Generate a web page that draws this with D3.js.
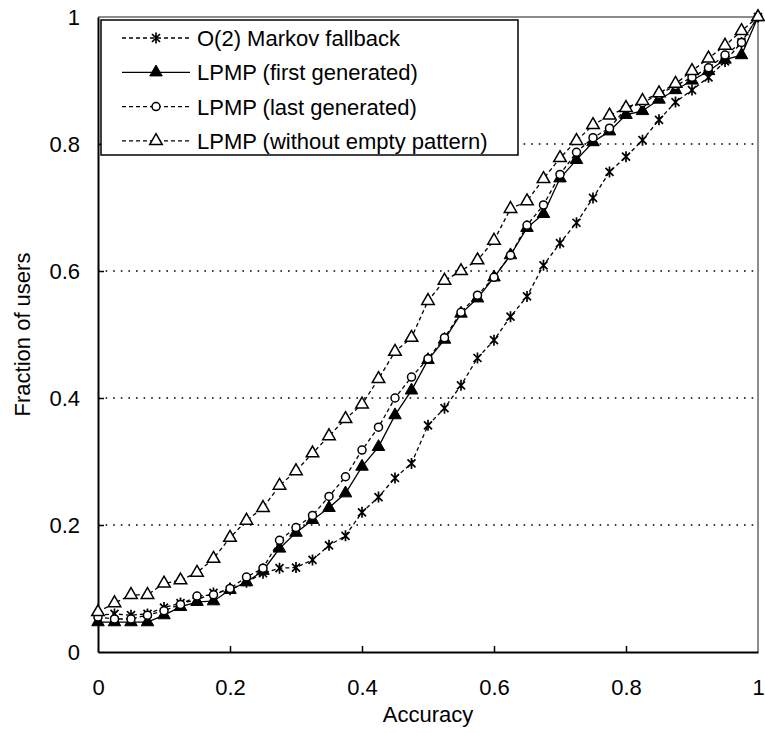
<!DOCTYPE html>
<meta charset="utf-8">
<head>
<title>Accuracy vs fraction of users</title>
</head>
<style>
body { margin: 0; background: #fff; }
text { font-family: Arial, "Liberation Sans", sans-serif; fill: #000; }
</style>
<body>
<svg id="chart" width="765" height="733"></svg>

<script src="https://cdnjs.cloudflare.com/ajax/libs/d3/7.8.5/d3.min.js"></script>
<script>
// accuracy steps 0, 0.025 ... 1
var accuracy = d3.range(41).map(function(i) { return i / 40 })

var seriesNames = ["O(2) Markov fallback", "LPMP (first generated)",
                   "LPMP (last generated)", "LPMP (without empty pattern)"]

var markov = [0.058, 0.060, 0.058, 0.060, 0.070, 0.077, 0.082, 0.093, 0.098, 0.110,
              0.124, 0.132, 0.133, 0.145, 0.168, 0.183, 0.220, 0.244, 0.274, 0.297,
              0.357, 0.384, 0.420, 0.463, 0.491, 0.528, 0.560, 0.609, 0.644, 0.676,
              0.715, 0.756, 0.780, 0.806, 0.838, 0.866, 0.885, 0.905, 0.930, 0.960, 1.0]

var firstGen = [0.047, 0.047, 0.047, 0.047, 0.058, 0.071, 0.079, 0.080, 0.098, 0.110,
                0.128, 0.163, 0.188, 0.208, 0.227, 0.250, 0.292, 0.323, 0.373, 0.412,
                0.460, 0.492, 0.533, 0.557, 0.590, 0.625, 0.668, 0.690, 0.746, 0.775,
                0.803, 0.820, 0.846, 0.852, 0.870, 0.885, 0.900, 0.915, 0.933, 0.940, 1.0]

var lastGen = [0.055, 0.052, 0.052, 0.058, 0.065, 0.075, 0.088, 0.090, 0.100, 0.118,
               0.132, 0.176, 0.196, 0.215, 0.245, 0.276, 0.318, 0.354, 0.400, 0.433,
               0.462, 0.495, 0.535, 0.562, 0.590, 0.625, 0.672, 0.704, 0.752, 0.787,
               0.810, 0.825, 0.856, 0.865, 0.878, 0.892, 0.905, 0.920, 0.940, 0.960, 1.0]

var noEmpty = [0.063, 0.077, 0.090, 0.090, 0.108, 0.113, 0.125, 0.147, 0.180, 0.207,
               0.227, 0.262, 0.285, 0.313, 0.340, 0.367, 0.390, 0.430, 0.473, 0.495,
               0.553, 0.585, 0.600, 0.617, 0.648, 0.698, 0.710, 0.745, 0.778, 0.805,
               0.830, 0.845, 0.857, 0.868, 0.880, 0.895, 0.915, 0.935, 0.955, 0.978, 1.0]

var xTicks = [0, 0.2, 0.4, 0.6, 0.8, 1]
var yTicks = [0, 0.2, 0.4, 0.6, 0.8, 1]

var svg = d3.select('#chart')
var plotL = 98, plotR = 758, plotT = 17, plotB = 652

var x = d3.scaleLinear().domain([0, 1]).range([plotL, plotR])
var y = d3.scaleLinear().domain([0, 1]).range([plotB, plotT])

// dotted gridlines
svg.append('g').selectAll('line')
  .data(yTicks.filter(function(d) { return d > 0 && d < 1 }))
  .enter().append('line')
  .attr('x1', plotL).attr('x2', plotR)
  .attr('y1', function(d) { return y(d) }).attr('y2', function(d) { return y(d) })
  .attr('stroke', '#000').attr('stroke-width', 1.6)
  .attr('stroke-dasharray', '1.6,6')

// grey frame top / right
svg.append('path')
  .attr('d', 'M' + plotL + ',' + plotT + 'H' + plotR + 'V' + plotB)
  .attr('fill', 'none').attr('stroke', '#8c8c8c').attr('stroke-width', 2)

var xAxis = svg.append('g')
  .attr('transform', 'translate(0,' + plotB + ')')
  .call(d3.axisBottom(x).tickValues(xTicks).tickSizeInner(-6).tickSizeOuter(0)
        .tickPadding(27).tickFormat(d3.format('')))
var yAxis = svg.append('g')
  .attr('transform', 'translate(' + plotL + ',0)')
  .call(d3.axisLeft(y).tickValues(yTicks).tickSizeInner(-6).tickSizeOuter(0)
        .tickPadding(18).tickFormat(d3.format('')))

;[xAxis, yAxis].forEach(function(a) {
  a.select('.domain').attr('stroke', '#000').attr('stroke-width', 2)
  a.selectAll('.tick line').attr('stroke', '#000').attr('stroke-width', 1.5)
  a.selectAll('text').style('font-size', '22px').attr('fill', '#000')
})
xAxis.selectAll('.tick').filter(function(d) { return d == 0 || d == 1 }).select('line').remove()
yAxis.selectAll('.tick').filter(function(d) { return d == 0 || d == 1 }).select('line').remove()

svg.append('text')
  .attr('x', (plotL + plotR) / 2).attr('y', 722)
  .attr('text-anchor', 'middle').style('font-size', '22px')
  .text('Accuracy')

svg.append('text')
  .attr('transform', 'translate(30,' + (plotT + plotB) / 2 + ') rotate(-90)')
  .attr('text-anchor', 'middle').style('font-size', '22px')
  .text('Fraction of users')

// marker drawing
function drawMarker(g, kind) {
  if (kind == 'star') {
    g.append('path').attr('d', 'M-4,-4L4,4M-4,4L4,-4M0,-5.5V5.5')
      .attr('stroke', '#000').attr('stroke-width', 1.7).attr('fill', 'none')
  } else if (kind == 'tri') {
    g.append('path').attr('d', d3.symbol(d3.symbolTriangle).size(68)())
      .attr('fill', '#000').attr('stroke', '#000').attr('stroke-width', 1)
  } else if (kind == 'circle') {
    g.append('circle').attr('r', 4)
      .attr('fill', '#fff').attr('stroke', '#000').attr('stroke-width', 1.5)
  } else {
    g.append('path').attr('d', d3.symbol(d3.symbolTriangle).size(68)())
      .attr('fill', '#fff').attr('stroke', '#000').attr('stroke-width', 1.5)
  }
}

var series = [
  {name: seriesNames[0], values: markov, dash: '4,3', marker: 'star'},
  {name: seriesNames[1], values: firstGen, dash: null, marker: 'tri'},
  {name: seriesNames[2], values: lastGen, dash: '4,3', marker: 'circle'},
  {name: seriesNames[3], values: noEmpty, dash: '4,3', marker: 'opentri'}
]

var line = d3.line()
  .x(function(d, i) { return x(accuracy[i]) })
  .y(function(d) { return y(d) })

series.forEach(function(s) {
  svg.append('path')
    .attr('d', line(s.values))
    .attr('fill', 'none').attr('stroke', '#000').attr('stroke-width', 1.3)
    .attr('stroke-dasharray', s.dash)
  s.values.forEach(function(v, i) {
    var g = svg.append('g').attr('transform', 'translate(' + x(accuracy[i]) + ',' + y(v) + ')')
    drawMarker(g, s.marker)
  })
})

// legend
var legend = svg.append('g')
legend.append('rect')
  .attr('x', 101).attr('y', 20).attr('width', 417).attr('height', 135)
  .attr('fill', '#fff').attr('stroke', '#000').attr('stroke-width', 1.5)

series.forEach(function(s, i) {
  var ly = 38 + i * 34.3
  legend.append('line')
    .attr('x1', 122).attr('x2', 190).attr('y1', ly).attr('y2', ly)
    .attr('stroke', '#000').attr('stroke-width', 1.3).attr('stroke-dasharray', s.dash)
  drawMarker(legend.append('g').attr('transform', 'translate(156,' + ly + ')'), s.marker)
  legend.append('text')
    .attr('x', 197).attr('y', ly + 8)
    .style('font-size', '22px')
    .text(s.name)
})
</script>
</body>
</html>
